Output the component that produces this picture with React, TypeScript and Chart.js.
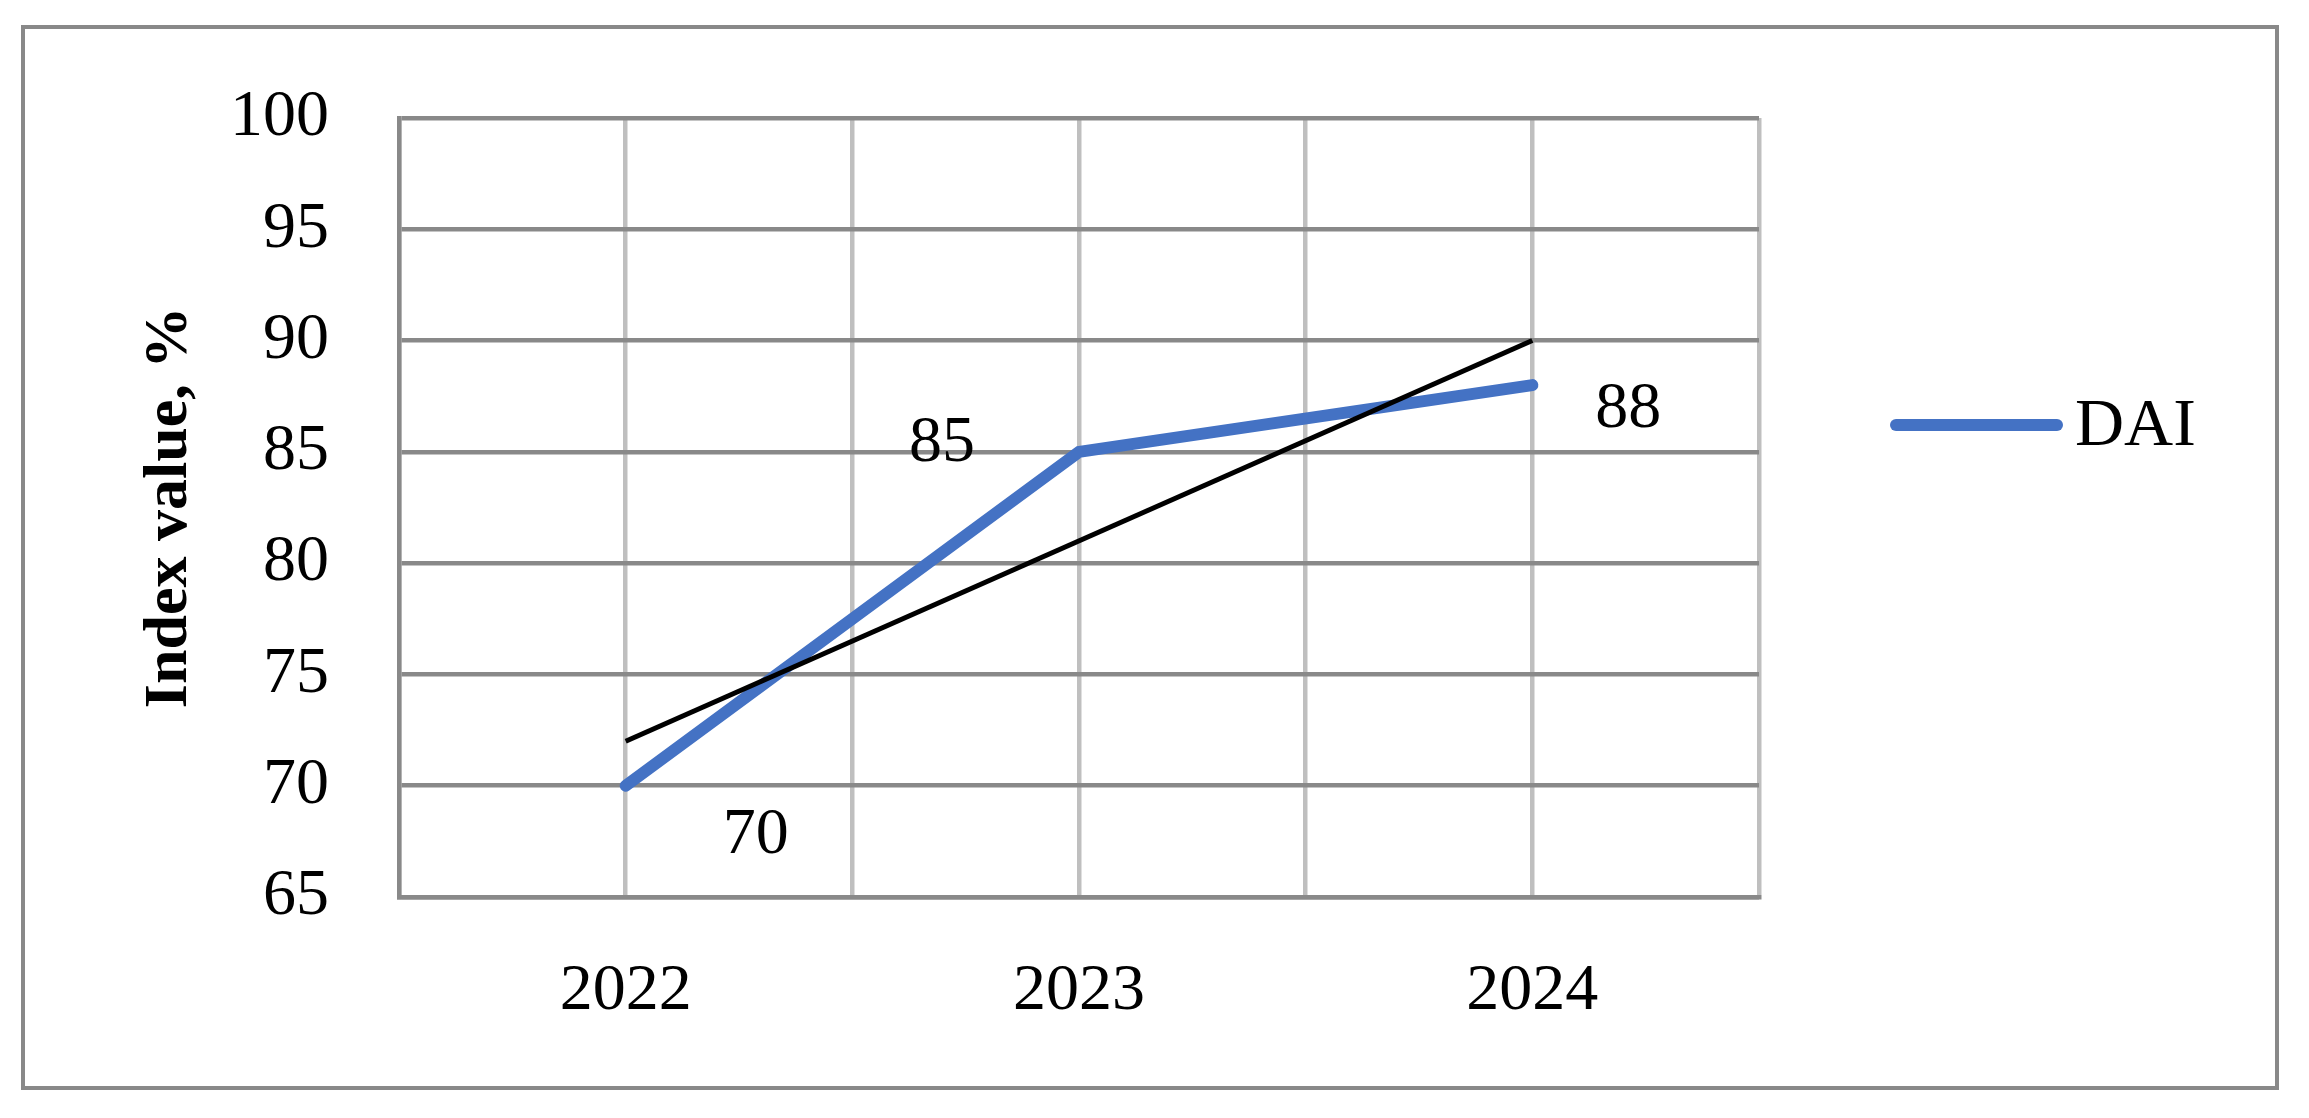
import React, { useEffect, useRef } from "react";
import { Chart, registerables } from "chart.js";

Chart.register(...registerables);

const years = ["2022", "2023", "2024"];
const daiValues = [70, 85, 88];
const seriesName = "DAI";
const yTicksMin = 65;
const yTicksMax = 100;
const yTickStep = 5;
const yTitle = "Index value, %";

const BLUE = "#4472C4";
const DARK_GRID = "#898989";
const LIGHT_GRID = "#bfbfbf";
const FONT = "'Liberation Serif', 'Times New Roman', serif";

// least-squares linear trendline, as the spreadsheet draws it
function linearTrend(vals: number[]) {
  const n = vals.length;
  const xs = vals.map((_, i) => i);
  const mx = xs.reduce((a, b) => a + b, 0) / n;
  const my = vals.reduce((a, b) => a + b, 0) / n;
  let num = 0;
  let den = 0;
  xs.forEach((x, i) => {
    num += (x - mx) * (vals[i] - my);
    den += (x - mx) * (x - mx);
  });
  const slope = num / den;
  const b = my - slope * mx;
  return [
    { x: 0, y: b },
    { x: n - 1, y: b + slope * (n - 1) },
  ];
}

const labelOffsets = [
  { dx: 130, dy: 67 },
  { dx: -137, dy: 9 },
  { dx: 96, dy: 42 },
];

export default function App() {
  const ref = useRef<HTMLCanvasElement | null>(null);

  useEffect(() => {
    if (!ref.current) return;

    const framePlugin = {
      id: "frame",
      beforeDraw(chart: any) {
        const ctx = chart.ctx;
        ctx.save();
        ctx.fillStyle = "#ffffff";
        ctx.fillRect(0, 0, chart.width, chart.height);
        ctx.strokeStyle = DARK_GRID;
        ctx.lineWidth = 4;
        ctx.strokeRect(23, 27, 2277 - 23, 1088 - 27);
        ctx.restore();
      },
    };

    const labelsPlugin = {
      id: "dataLabels",
      afterDatasetsDraw(chart: any) {
        const ctx = chart.ctx;
        const xs = chart.scales.x;
        const ys = chart.scales.y;
        ctx.save();
        ctx.fillStyle = "#000";
        ctx.font = `66px ${FONT}`;
        ctx.textAlign = "center";
        ctx.textBaseline = "alphabetic";
        daiValues.forEach((v, i) => {
          const px = xs.getPixelForValue(i);
          const py = ys.getPixelForValue(v);
          const o = labelOffsets[i];
          ctx.fillText(String(v), px + o.dx, py + o.dy);
        });
        ctx.restore();
      },
    };

    const legendPlugin = {
      id: "customLegend",
      afterDraw(chart: any) {
        const ctx = chart.ctx;
        ctx.save();
        ctx.strokeStyle = BLUE;
        ctx.lineWidth = 12;
        ctx.lineCap = "round";
        ctx.beginPath();
        ctx.moveTo(1896, 425);
        ctx.lineTo(2057, 425);
        ctx.stroke();
        ctx.fillStyle = "#000";
        ctx.font = `68px ${FONT}`;
        ctx.textAlign = "left";
        ctx.textBaseline = "alphabetic";
        ctx.fillText(seriesName, 2075, 445);
        ctx.restore();
      },
    };

    const chart = new Chart(ref.current, {
      type: "line",
      data: {
        datasets: [
          {
            label: "Linear (" + seriesName + ")",
            data: linearTrend(daiValues),
            borderColor: "#000000",
            borderWidth: 5,
            borderCapStyle: "butt",
            pointRadius: 0,
            fill: false,
            order: 0,
          },
          {
            label: seriesName,
            data: daiValues.map((v, i) => ({ x: i, y: v })),
            borderColor: BLUE,
            backgroundColor: BLUE,
            borderWidth: 12,
            borderCapStyle: "round",
            borderJoinStyle: "miter",
            pointRadius: 0,
            fill: false,
            order: 1,
          },
        ],
      },
      options: {
        responsive: false,
        animation: false,
        layout: { padding: { left: 0, top: 118, right: 2309 - 1759, bottom: 0 } },
        plugins: {
          legend: { display: false },
          tooltip: { enabled: false },
        },
        scales: {
          x: {
            type: "linear",
            min: -0.5,
            max: years.length - 0.5,
            afterFit(scale: any) {
              scale.height = 1118 - 897;
            },
            ticks: {
              stepSize: 0.5,
              autoSkip: false,
              maxRotation: 0,
              minRotation: 0,
              padding: 55,
              color: "#000",
              font: { family: FONT, size: 66 },
              callback: (value: any) => {
                const v = Number(value);
                return Number.isInteger(v) && years[v] ? years[v] : "";
              },
            },
            grid: {
              color: LIGHT_GRID,
              lineWidth: 4.5,
              drawTicks: false,
            },
            border: { display: true, color: DARK_GRID, width: 4.5 },
          },
          y: {
            type: "linear",
            min: yTicksMin,
            max: yTicksMax,
            afterFit(scale: any) {
              scale.width = 399;
            },
            ticks: {
              stepSize: yTickStep,
              padding: 70,
              color: "#000",
              font: { family: FONT, size: 66 },
            },
            grid: {
              color: DARK_GRID,
              lineWidth: 4.5,
              drawTicks: false,
            },
            border: { display: true, color: DARK_GRID, width: 4.5 },
            title: {
              display: true,
              text: yTitle,
              color: "#000",
              font: { family: FONT, size: 62, weight: "bold" },
              padding: { top: 133, bottom: 0 },
            },
          },
        },
      },
      plugins: [framePlugin, labelsPlugin, legendPlugin],
    } as any);

    return () => chart.destroy();
  }, []);

  return (
    <div style={{ position: "absolute", left: 0, top: 0, width: 2309, height: 1118 }}>
      <canvas ref={ref} width={2309} height={1118} style={{ width: 2309, height: 1118, display: "block" }} />
    </div>
  );
}
